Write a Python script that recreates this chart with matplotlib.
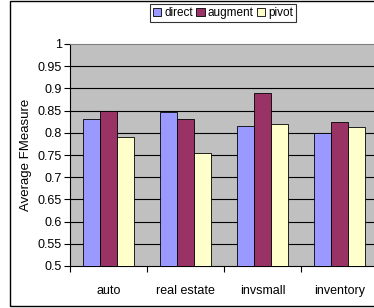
import numpy as np
import matplotlib
matplotlib.use('Agg')
import matplotlib.pyplot as plt
from matplotlib.patches import Rectangle

categories = ['auto', 'real estate', 'invsmall', 'inventory']
series = ['direct', 'augment', 'pivot']
direct = [0.830, 0.846, 0.815, 0.800]
augment = [0.850, 0.830, 0.890, 0.824]
pivot = [0.791, 0.755, 0.820, 0.812]
yticks = [0.5, 0.55, 0.6, 0.65, 0.7, 0.75, 0.8, 0.85, 0.9, 0.95, 1]

colors = ['#9999FF', '#993366', '#FFFFCC']

plt.rcParams['font.family'] = ['Liberation Sans', 'DejaVu Sans']
plt.rcParams['font.size'] = 9

W, H = 374, 308
fig = plt.figure(figsize=(W / 100, H / 100), dpi=100)

# plot area in pixels: left 70, right 378 (cropped), top 44, bottom 266
ax = fig.add_axes([70 / W, (H - 266) / H, 308 / W, 222 / H])
ax.set_facecolor('#C0C0C0')

x = np.arange(len(categories))
w = 0.22
for i, (vals, name) in enumerate(zip([direct, augment, pivot], series)):
    ax.bar(x + (i - 1) * w, np.array(vals) - 0.5, w, bottom=0.5, color=colors[i],
           edgecolor='black', linewidth=0.6, label=name, zorder=3)

ax.set_ylim(0.5, 1.0)
ax.set_xlim(-0.5, len(categories) - 0.5)
ax.set_yticks(yticks)
ax.set_yticklabels([f'{v:g}' for v in yticks])
for v in yticks[1:-1]:
    ax.axhline(v, color='black', linewidth=0.8, zorder=1)

ax.set_xticks(x)
ax.set_xticklabels(categories)
ax.set_xticks(np.arange(-0.5, len(categories), 1), minor=True)
ax.tick_params(axis='x', which='major', length=0, pad=14)
ax.tick_params(axis='x', which='minor', length=4, direction='out', width=0.8)
ax.tick_params(axis='y', length=4, direction='out', width=0.8, pad=2)

ax.spines['right'].set_visible(False)
ax.spines['top'].set_color('#808080')
ax.spines['left'].set_color('black')
ax.spines['bottom'].set_color('black')
for s in ['left', 'bottom', 'top']:
    ax.spines[s].set_linewidth(0.8)

ax.set_ylabel('Average FMeasure', labelpad=4, fontsize=9.5)

leg = ax.legend(loc='center', bbox_to_anchor=(223 / W, (H - 13) / H),
                bbox_transform=fig.transFigure, ncol=3, frameon=True,
                fancybox=False, edgecolor='black', handlelength=0.7,
                handleheight=0.7, handletextpad=0.25, columnspacing=0.3,
                borderpad=0.25, borderaxespad=0, fontsize=8.5)
leg.get_frame().set_linewidth(0.8)

# outer chart border
fig.patches.append(Rectangle((10 / W, (H - 306) / H), 400 / W, 305 / H,
                             transform=fig.transFigure, fill=False,
                             edgecolor='black', linewidth=1))

fig.savefig('out.png', dpi=100)
